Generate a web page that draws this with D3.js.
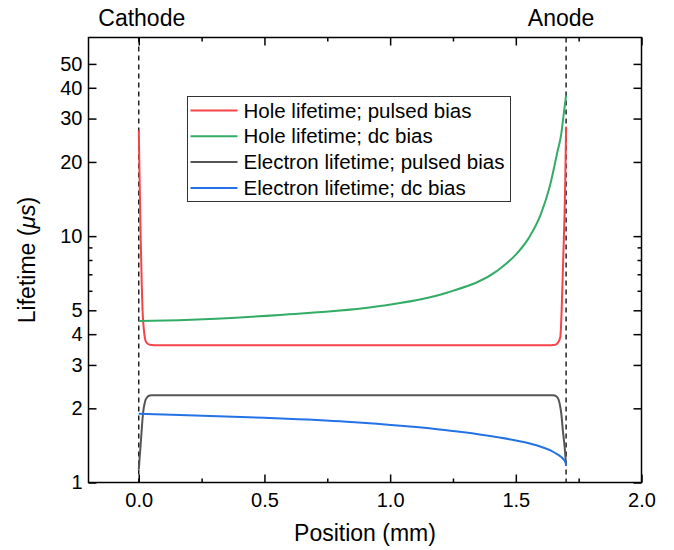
<!DOCTYPE html>
<html>
<head>
<meta charset="utf-8">
<script src="https://cdn.jsdelivr.net/npm/d3@7"></script>
<style>
  body { margin: 0; background: #fff; }
  svg { font-family: "Liberation Sans", Arial, sans-serif; }
</style>
</head>
<body>
<script>
// Series: position (mm) and lifetime (us)
var holePulsedX = [0, 0.004, 0.008, 0.012, 0.015, 0.02, 0.024, 0.03, 0.044, 0.06, 0.5, 1.0, 1.5, 1.64, 1.657, 1.668, 1.677, 1.682, 1.686, 1.69, 1.694, 1.697, 1.70];
var holePulsedY = [26.9, 15.5, 9.4, 6.3, 5.0, 4.2, 3.88, 3.7, 3.62, 3.61, 3.61, 3.61, 3.61, 3.61, 3.62, 3.70, 3.9, 4.9, 6.6, 9.0, 12.4, 17.5, 27.8];

var holeDcX = [0, 0.16, 0.56, 0.96, 1.225, 1.424, 1.5, 1.55, 1.6, 1.637, 1.666, 1.68, 1.69, 1.70];
var holeDcY = [4.52, 4.56, 4.79, 5.20, 5.89, 7.21, 8.41, 9.77, 12.3, 16.2, 22.1, 25.7, 30.9, 37.3];

var elecPulsedX = [0, 0.008, 0.017, 0.025, 0.031, 0.04, 0.05, 0.5, 1.0, 1.5, 1.65, 1.665, 1.674, 1.681, 1.687, 1.694, 1.70];
var elecPulsedY = [1.13, 1.45, 1.91, 2.13, 2.20, 2.25, 2.26, 2.26, 2.26, 2.26, 2.26, 2.22, 2.10, 1.90, 1.63, 1.40, 1.17];

var elecDcX = [0, 0.163, 0.5, 0.827, 1.225, 1.49, 1.597, 1.65, 1.697, 1.70];
var elecDcY = [1.90, 1.88, 1.83, 1.765, 1.63, 1.487, 1.40, 1.33, 1.215, 1.17];

var seriesNames = ["Hole lifetime; pulsed bias", "Hole lifetime; dc bias", "Electron lifetime; pulsed bias", "Electron lifetime; dc bias"];
var seriesColors = ["#f5434a", "#33ac66", "#555555", "#2372e6"];

var xMajorTicks = [0, 0.5, 1.0, 1.5, 2.0];
var xMinorTicks = [0.25, 0.75, 1.25, 1.75];
var yMajorTicks = [1, 2, 3, 4, 5, 10, 20, 30, 40, 50];
var yMinorTicks = [6, 7, 8, 9];
var electrodes = [{x: 0, name: "Cathode"}, {x: 1.7, name: "Anode"}];

window.onload = function(){
  var w = 674, h = 550;
  var left = 88.5, right = 641.5, top = 37.5, bottom = 482.5;

  var svg = d3.select("body").append("svg")
    .attr("width", w)
    .attr("height", h);

  var x = d3.scaleLinear().domain([-0.2, 2.0]).range([left, right]);
  var y = d3.scaleLog().domain([1, 64]).range([bottom, top]);

  function zipPts(xs, ys){
    return xs.map(function(d, i){ return [d, ys[i]]; });
  }
  var series = [
    zipPts(holePulsedX, holePulsedY),
    zipPts(holeDcX, holeDcY),
    zipPts(elecPulsedX, elecPulsedY),
    zipPts(elecDcX, elecDcY)
  ];

  // axes, ticks pointing inward
  function styleAxis(g){
    g.select(".domain").remove();
    g.selectAll(".tick line").attr("stroke", "#000").attr("stroke-width", 1.5);
    g.selectAll("text").attr("fill", "#000").style("font-size", "20px");
  }

  svg.append("g").attr("transform", "translate(0," + bottom + ")")
    .call(d3.axisBottom(x).tickValues(xMajorTicks).tickSize(-8).tickPadding(10)
      .tickFormat(d3.format(".1f")))
    .call(styleAxis);
  svg.append("g").attr("transform", "translate(0," + bottom + ")")
    .call(d3.axisBottom(x).tickValues(xMinorTicks).tickSize(-4).tickFormat(""))
    .call(styleAxis);
  svg.append("g").attr("transform", "translate(0," + top + ")")
    .call(d3.axisTop(x).tickValues(xMajorTicks).tickSize(-8).tickFormat(""))
    .call(styleAxis);
  svg.append("g").attr("transform", "translate(0," + top + ")")
    .call(d3.axisTop(x).tickValues(xMinorTicks).tickSize(-4).tickFormat(""))
    .call(styleAxis);

  svg.append("g").attr("transform", "translate(" + left + ",0)")
    .call(d3.axisLeft(y).tickValues(yMajorTicks).tickSize(-8).tickPadding(6)
      .tickFormat(d3.format("d")))
    .call(styleAxis);
  svg.append("g").attr("transform", "translate(" + left + ",0)")
    .call(d3.axisLeft(y).tickValues(yMinorTicks).tickSize(-4).tickFormat(""))
    .call(styleAxis);
  svg.append("g").attr("transform", "translate(" + right + ",0)")
    .call(d3.axisRight(y).tickValues(yMajorTicks).tickSize(-8).tickFormat(""))
    .call(styleAxis);
  svg.append("g").attr("transform", "translate(" + right + ",0)")
    .call(d3.axisRight(y).tickValues(yMinorTicks).tickSize(-4).tickFormat(""))
    .call(styleAxis);

  // dashed electrode lines and their labels
  svg.selectAll(".electrode")
    .data(electrodes)
    .enter()
    .append("line")
    .attr("class", "electrode")
    .attr("x1", function(d){ return x(d.x); })
    .attr("x2", function(d){ return x(d.x); })
    .attr("y1", top)
    .attr("y2", bottom)
    .attr("stroke", "#000")
    .attr("stroke-width", 1.3)
    .attr("stroke-dasharray", "5,4");

  svg.selectAll(".electrodeLabel")
    .data(electrodes)
    .enter()
    .append("text")
    .attr("class", "electrodeLabel")
    .attr("text-anchor", "middle")
    .attr("x", function(d){ return x(d.x) + (d.x === 0 ? 3 : -5); })
    .attr("y", 26)
    .style("font-size", "23px")
    .text(function(d){ return d.name; });

  // curves
  var line = d3.line()
    .x(function(d){ return x(d[0]); })
    .y(function(d){ return y(d[1]); })
    .curve(d3.curveMonotoneX);

  svg.selectAll(".curve")
    .data(series)
    .enter()
    .append("path")
    .attr("class", "curve")
    .attr("d", line)
    .attr("fill", "none")
    .attr("stroke", function(d, i){ return seriesColors[i]; })
    .attr("stroke-width", 2);

  // frame
  svg.append("rect")
    .attr("x", left)
    .attr("y", top)
    .attr("width", right - left)
    .attr("height", bottom - top)
    .attr("fill", "none")
    .attr("stroke", "#000")
    .attr("stroke-width", 1.5);

  // legend
  var legend = svg.append("g").attr("transform", "translate(187.5,96.5)");
  legend.append("rect")
    .attr("width", 323)
    .attr("height", 105)
    .attr("fill", "#fff")
    .attr("stroke", "#333")
    .attr("stroke-width", 1);
  var rows = legend.selectAll(".legendRow")
    .data(seriesNames)
    .enter()
    .append("g")
    .attr("class", "legendRow")
    .attr("transform", function(d, i){ return "translate(0," + (14 + i * 25.8) + ")"; });
  rows.append("line")
    .attr("x1", 3).attr("x2", 50)
    .attr("stroke", function(d, i){ return seriesColors[i]; })
    .attr("stroke-width", 2);
  rows.append("text")
    .attr("x", 56)
    .attr("dy", "0.35em")
    .style("font-size", "20.5px")
    .text(function(d){ return d; });

  // axis titles
  svg.append("text")
    .attr("text-anchor", "middle")
    .attr("x", (left + right) / 2)
    .attr("y", 541)
    .style("font-size", "23px")
    .text("Position (mm)");

  var yTitle = svg.append("text")
    .attr("text-anchor", "middle")
    .attr("transform", "translate(35," + ((top + bottom) / 2) + ") rotate(-90)")
    .style("font-size", "23px");
  yTitle.append("tspan").text("Lifetime (");
  yTitle.append("tspan").style("font-style", "italic").text("\u03bcs");
  yTitle.append("tspan").text(")");
};
</script>
</body>
</html>
